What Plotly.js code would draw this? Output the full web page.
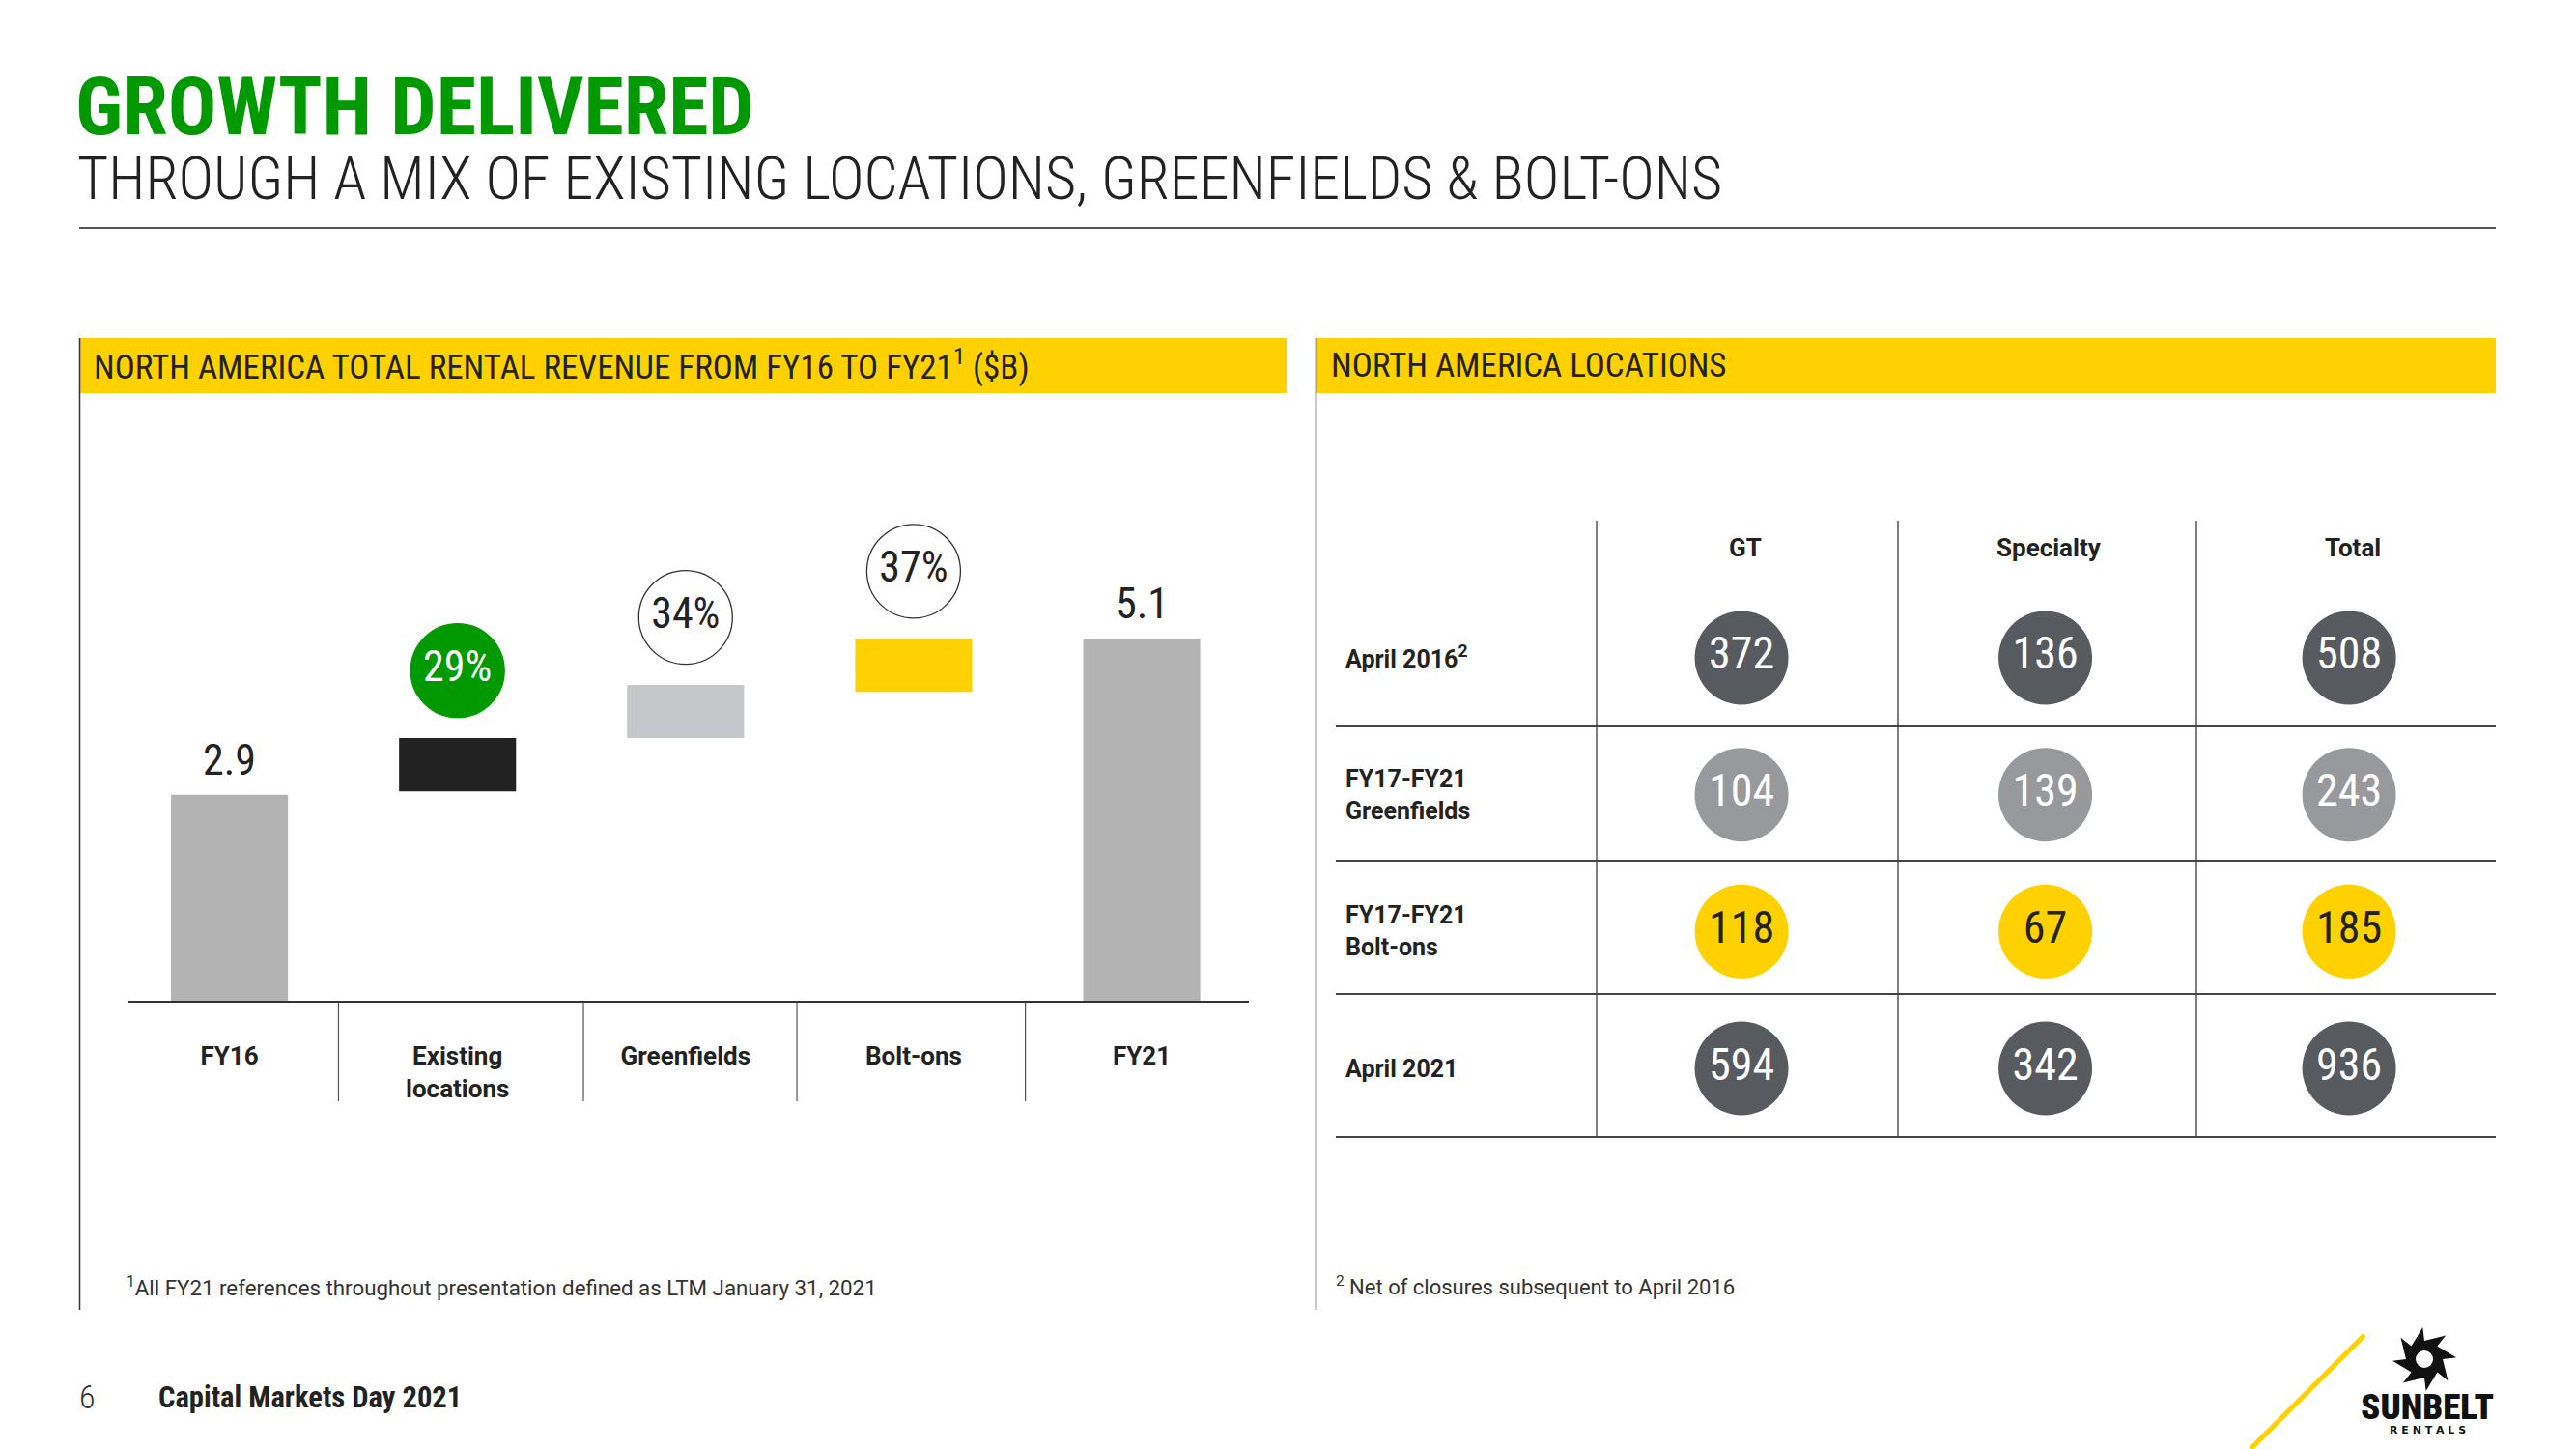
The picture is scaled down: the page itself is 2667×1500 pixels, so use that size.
<!DOCTYPE html>
<html>
<head>
<meta charset="utf-8">
<script src="https://cdn.plot.ly/plotly-3.0.1.min.js"></script>
<style>html,body{margin:0;padding:0;background:#fff;}#chart{width:2667px;height:1500px;}</style>
</head>
<body>
<div id="chart"></div>
<script>
// ---------- data ----------
const categories = ['FY16', 'Existing locations', 'Greenfields', 'Bolt-ons', 'FY21'];
const categoryLabels = ['FY16', 'Existing<br>locations', 'Greenfields', 'Bolt-ons', 'FY21'];
const barBases = [0, 2.95, 3.70, 4.35, 0];
const barValues = [2.9, 0.75, 0.75, 0.75, 5.1];
const barColors = ['#b3b3b3', '#222222', '#c5c7ca', '#ffd100', '#b3b3b3'];
const valueLabels = ['2.9', '', '', '', '5.1'];

const shareCategories = ['Existing locations', 'Greenfields', 'Bolt-ons'];
const shareLabels = ['29%', '34%', '37%'];

const tableColumns = ['GT', 'Specialty', 'Total'];
const tableRows = ['April 2016', 'FY17-FY21 Greenfields', 'FY17-FY21 Bolt-ons', 'April 2021'];
const tableRowLabels = ['April 2016<sup>2</sup>', 'FY17-FY21<br>Greenfields', 'FY17-FY21<br>Bolt-ons', 'April 2021'];
const gtValues = [372, 104, 118, 594];
const specialtyValues = [136, 139, 67, 342];
const totalValues = [508, 243, 185, 936];
const rowFill = ['#575b5f', '#97999c', '#ffd100', '#575b5f'];
const rowText = ['#ffffff', '#ffffff', '#222222', '#ffffff'];

// ---------- helpers ----------
const W = 2667, H = 1500;
const px = x => x / W;
const py = y => 1 - y / H;
const COND = "'Roboto Condensed', 'Liberation Sans Narrow', 'Arial Narrow', 'DejaVu Sans Condensed', Roboto, sans-serif";
const REG = "Roboto, 'Liberation Sans', Arial, sans-serif";
const GREEN = '#009a00';
const YELLOW = '#ffd100';

// ---------- traces ----------
const barTrace = {
  type: 'bar', x: categories, y: barValues, base: barBases,
  marker: {color: barColors, line: {width: 0}}, width: 0.513,
  hoverinfo: 'skip', xaxis: 'x', yaxis: 'y'
};

const shareY = shareCategories.map(c => {
  const i = categories.indexOf(c);
  return barBases[i] + barValues[i] + 0.95;
});
const shareTrace = {
  type: 'scatter', mode: 'markers+text', x: shareCategories, y: shareY,
  text: shareLabels, textposition: 'middle center',
  textfont: {family: COND, size: 44, color: ['#ffffff', '#222222', '#222222']},
  marker: {size: 97, color: [GREEN, '#ffffff', '#ffffff'],
           line: {color: [GREEN, '#333333', '#333333'], width: 1.3}},
  hoverinfo: 'skip', xaxis: 'x', yaxis: 'y', cliponaxis: false
};

const tx = [], ty = [], tt = [], tc = [], tf = [];
const colVals = [gtValues, specialtyValues, totalValues];
tableRows.forEach((r, ri) => {
  tableColumns.forEach((c, ci) => {
    tx.push(c); ty.push(r); tt.push(String(colVals[ci][ri]));
    tc.push(rowFill[ri]); tf.push(rowText[ri]);
  });
});
const tableTrace = {
  type: 'scatter', mode: 'markers+text', x: tx, y: ty, text: tt,
  textposition: 'middle center',
  textfont: {family: COND, size: 46, color: tf},
  marker: {size: 97, color: tc, line: {width: 0}},
  hoverinfo: 'skip', xaxis: 'x2', yaxis: 'y2', cliponaxis: false
};

// ---------- shapes ----------
const shapes = [];
const line = (x0, y0, x1, y1, color, width) => shapes.push({
  type: 'line', xref: 'paper', yref: 'paper', x0: px(x0), y0: py(y0), x1: px(x1), y1: py(y1),
  line: {color: color, width: width}, layer: 'below'
});
line(82, 236, 2584, 236, '#555555', 2);
shapes.push({type: 'rect', xref: 'paper', yref: 'paper', x0: px(82), x1: px(1332), y0: py(350), y1: py(407), fillcolor: YELLOW, line: {width: 0}, layer: 'below'});
shapes.push({type: 'rect', xref: 'paper', yref: 'paper', x0: px(1362), x1: px(2584), y0: py(350), y1: py(407), fillcolor: YELLOW, line: {width: 0}, layer: 'below'});
line(82.5, 350, 82.5, 1356, '#333333', 1.5);
line(1362.5, 350, 1362.5, 1356, '#333333', 1.5);
// waterfall category separators
[0.478, 1.552, 2.488, 3.49].forEach(v => shapes.push({
  type: 'line', xref: 'x', yref: 'paper', x0: v, x1: v, y0: py(1036), y1: py(1140),
  line: {color: '#555555', width: 1.2}, layer: 'below'
}));
// table grid
[1653, 1965, 2274].forEach(x => line(x, 539, x, 1177, '#555555', 1.5));
[752, 891, 1029, 1177].forEach(y => line(1383, y, 2584, y, '#444444', 2));
// logo diagonal
line(2330, 1500, 2448, 1382, YELLOW, 5);
// saw-blade gear
(function () {
  const cx = 2510, cy = 1407, r1 = 19, r2 = 33, n = 8;
  let d = '';
  for (let i = 0; i < n; i++) {
    const a0 = -Math.PI / 2 + i * 2 * Math.PI / n;
    const a1 = a0 + 2 * Math.PI / n;
    const p0 = [cx + r1 * Math.cos(a0), cy + r1 * Math.sin(a0)];
    const p1 = [cx + r2 * Math.cos(a1 - 0.05), cy + r2 * Math.sin(a1 - 0.05)];
    d += (i === 0 ? 'M ' : 'L ') + px(p0[0]) + ',' + py(p0[1]) + ' L ' + px(p1[0]) + ',' + py(p1[1]) + ' ';
  }
  d += 'Z';
  shapes.push({type: 'path', xref: 'paper', yref: 'paper', path: d, fillcolor: '#111111', line: {width: 0}});
  shapes.push({type: 'circle', xref: 'paper', yref: 'paper', x0: px(cx - 9), x1: px(cx + 9), y0: py(cy + 9), y1: py(cy - 9), fillcolor: '#ffffff', line: {width: 0}});
})();

// ---------- annotations ----------
const ann = [];
const text = (t, x, y, size, opts) => ann.push(Object.assign({
  text: t, xref: 'paper', yref: 'paper', x: px(x), y: py(y), xanchor: 'left', yanchor: 'middle',
  showarrow: false, font: {family: COND, size: size, color: '#222222'}
}, opts || {}));

text('GROWTH DELIVERED', 76, 111, 84, {font: {family: COND, size: 84, color: GREEN, weight: 700}});
text('THROUGH A MIX OF EXISTING LOCATIONS, GREENFIELDS &amp; BOLT-ONS', 78, 185, 62, {font: {family: COND, size: 62, color: '#222222', weight: 300}});
text('NORTH AMERICA TOTAL RENTAL REVENUE FROM FY16 TO FY21<sup>1</sup> ($B)', 95, 377, 35);
text('NORTH AMERICA LOCATIONS', 1376, 378, 35);

// value labels on totals
valueLabels.forEach((v, i) => {
  if (!v) return;
  ann.push({text: v, xref: 'x', yref: 'y', x: categories[i], y: barBases[i] + barValues[i],
    yanchor: 'bottom', yshift: 8, showarrow: false,
    font: {family: COND, size: 44, color: '#222222'}});
});

// table headers and row labels
tableColumns.forEach(c => ann.push({text: c, xref: 'x2', yref: 'paper', x: c, y: py(567), xshift: 4,
  yanchor: 'middle', showarrow: false, font: {family: REG, size: 26, color: '#222222', weight: 700}}));
tableRows.forEach((r, i) => ann.push({text: tableRowLabels[i], xref: 'paper', yref: 'y2', x: px(1391), y: r,
  xanchor: 'left', yanchor: 'middle', align: 'left', showarrow: false,
  font: {family: REG, size: 25, color: '#222222', weight: 700}}));

// footnotes & footer
text('<sup>1</sup>All FY21 references throughout presentation defined as LTM January 31, 2021', 129, 1332, 22.3, {font: {family: REG, size: 22.3, color: '#333333'}});
text('<sup>2</sup> Net of closures subsequent to April 2016', 1381, 1331, 22, {font: {family: REG, size: 22, color: '#333333'}});
text('6', 80, 1446, 34, {font: {family: COND, size: 34, color: '#333333', weight: 300}});
text('Capital Markets Day 2021', 162, 1446, 30.6, {font: {family: COND, size: 30.6, color: '#222222', weight: 700}});
text('SUNBELT', 2513, 1456, 37, {xanchor: 'center', font: {family: COND, size: 37, color: '#111111', weight: 900}});
text('R E N T A L S', 2513, 1480, 11, {xanchor: 'center', font: {family: 'DejaVu Sans', size: 11, color: '#111111', weight: 700}});

// ---------- layout ----------
const layout = {
  width: W, height: H, margin: {l: 0, r: 0, t: 0, b: 0, pad: 0},
  paper_bgcolor: '#ffffff', plot_bgcolor: 'rgba(0,0,0,0)', showlegend: false,
  font: {family: COND, color: '#222222'},
  xaxis: {
    domain: [px(133), px(1293)], type: 'category', categoryarray: categories,
    range: [-0.443, 4.47], showline: true, linecolor: '#333333', linewidth: 2,
    ticks: '', showgrid: false, zeroline: false, fixedrange: true,
    tickmode: 'array', tickvals: categories, ticktext: categoryLabels,
    tickfont: {family: REG, size: 26, color: '#222222', weight: 700},
    ticklabelstandoff: 33, anchor: 'y'
  },
  yaxis: {
    domain: [py(1036), py(1036 - 7 * 73.5)], range: [0, 7], visible: false, fixedrange: true, anchor: 'x'
  },
  xaxis2: {
    domain: [px(1383), px(2584)], type: 'category', categoryarray: tableColumns,
    range: [-1.3355, 2.483], visible: false, fixedrange: true, anchor: 'y2'
  },
  yaxis2: {
    domain: [py(1177), py(539)], type: 'category', categoryarray: tableRows,
    range: [3.501, -1.002], visible: false, fixedrange: true, anchor: 'x2'
  },
  shapes: shapes, annotations: ann
};

Plotly.newPlot('chart', [barTrace, shareTrace, tableTrace], layout, {staticPlot: true, displayModeBar: false});
</script>
</body>
</html>
